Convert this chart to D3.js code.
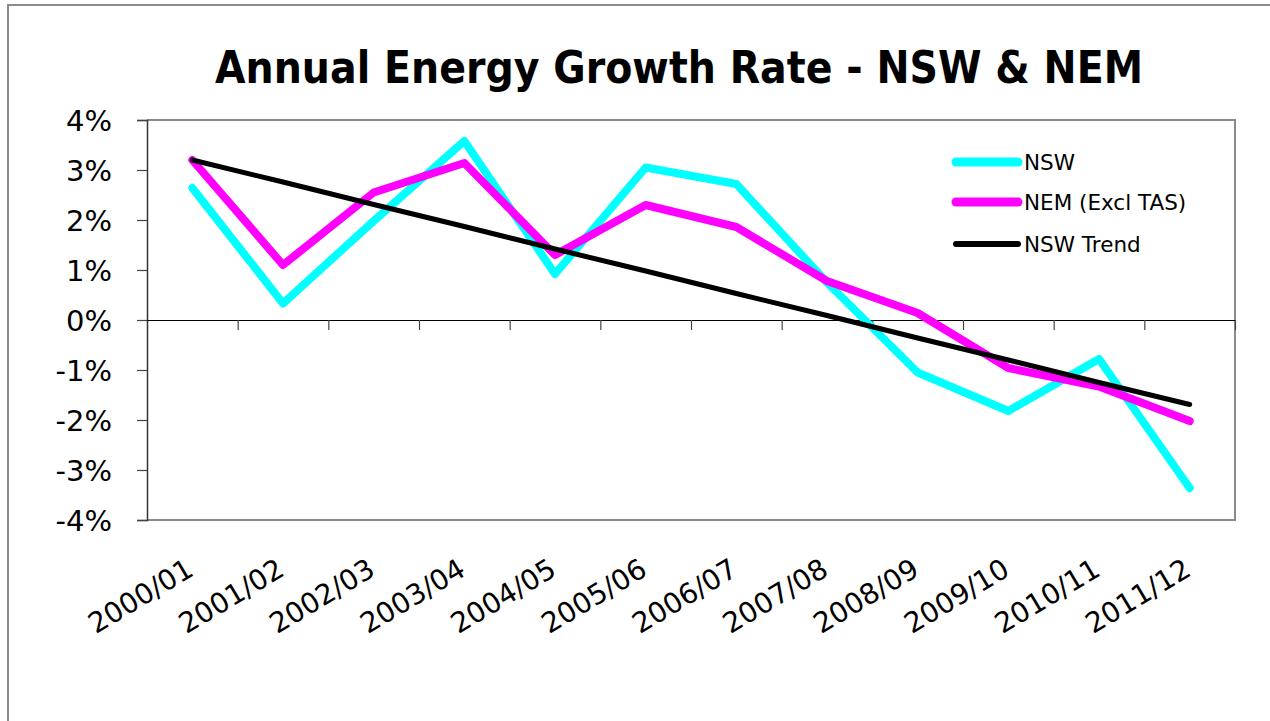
<!DOCTYPE html>
<html>
<head>
<meta charset="utf-8">
<script src="https://cdn.jsdelivr.net/npm/d3@7"></script>
<style>
  body { margin: 0; background: #fff; }
  svg { display: block; font-family: "DejaVu Sans", Verdana, sans-serif; }
</style>
</head>
<body>
<div id="chart"></div>
<script>
var years = ["2000/01", "2001/02", "2002/03", "2003/04", "2004/05", "2005/06",
             "2006/07", "2007/08", "2008/09", "2009/10", "2010/11", "2011/12"];

// growth rates in %
var nsw      = [2.64, 0.33, 1.98, 3.58, 0.92, 3.05, 2.72, 0.75, -1.05, -1.82, -0.78, -3.36];
var nem      = [3.20, 1.10, 2.55, 3.14, 1.30, 2.30, 1.86, 0.78, 0.14, -0.96, -1.33, -2.02];
var nswTrend = [3.20, 2.76, 2.31, 1.87, 1.42, 0.98, 0.53, 0.09, -0.36, -0.80, -1.25, -1.69];

var yTicks = [-4, -3, -2, -1, 0, 1, 2, 3, 4];

var series = [
    { name: "NSW", values: nsw, color: "#00ffff", width: 8 },
    { name: "NEM (Excl TAS)", values: nem, color: "#ff00ff", width: 8 },
    { name: "NSW Trend", values: nswTrend, color: "#000000", width: 5 }
];

var width = 1270, height = 721;
var plot = { left: 147, top: 120, right: 1235, bottom: 520 };

var svg = d3.select("#chart").append("svg")
    .attr("width", width)
    .attr("height", height);

// outer chart frame (runs off the page right and bottom)
svg.append("path")
    .attr("d", "M8,721 L8,5 L1270,5")
    .attr("fill", "none")
    .attr("stroke", "#8a8a8a")
    .attr("stroke-width", 2);

var x = d3.scaleBand()
    .domain(years)
    .range([plot.left, plot.right])
    .padding(0);

var xEdge = d3.scaleLinear()
    .domain([0, years.length])
    .range([plot.left, plot.right]);

var y = d3.scaleLinear()
    .domain([-4, 4])
    .range([plot.bottom, plot.top]);

var cx = function(d, i) { return x(years[i]) + x.bandwidth() / 2; };

// title
svg.append("text")
    .attr("x", 679)
    .attr("y", 83)
    .attr("text-anchor", "middle")
    .attr("font-size", 45)
    .attr("font-weight", "bold")
    .attr("textLength", 928)
    .attr("lengthAdjust", "spacingAndGlyphs")
    .text("Annual Energy Growth Rate - NSW & NEM");

// plot area border: grey top, right, bottom
svg.append("path")
    .attr("d", "M" + plot.left + "," + plot.top + " L" + plot.right + "," + plot.top +
               " L" + plot.right + "," + plot.bottom + " L" + plot.left + "," + plot.bottom)
    .attr("fill", "none")
    .attr("stroke", "#8a8a8a")
    .attr("stroke-width", 2);

// y axis
var yAxis = svg.append("g")
    .attr("transform", "translate(" + plot.left + ",0)")
    .call(d3.axisLeft(y)
        .tickValues(yTicks)
        .tickSize(10)
        .tickPadding(25)
        .tickFormat(function(d) { return d + "%"; }));
yAxis.select(".domain").attr("stroke", "#333").attr("stroke-width", 1.5);
yAxis.selectAll(".tick line").attr("stroke", "#444").attr("stroke-width", 1.2);
yAxis.selectAll(".tick text")
    .attr("font-family", "DejaVu Sans, Verdana, sans-serif")
    .attr("font-size", 29)
    .attr("fill", "#000")
    .attr("dy", "0.36em");

// x axis on the zero line, ticks between categories
var xAxis = svg.append("g")
    .attr("transform", "translate(0," + y(0) + ")")
    .call(d3.axisBottom(xEdge)
        .tickValues(d3.range(1, years.length + 1))
        .tickSize(10)
        .tickSizeOuter(0)
        .tickFormat(""));
xAxis.select(".domain").attr("stroke", "#000").attr("stroke-width", 1.2);
xAxis.selectAll(".tick line").attr("stroke", "#444").attr("stroke-width", 1.2);

// category labels, rotated
svg.append("g").selectAll("text")
    .data(years)
    .enter().append("text")
    .attr("transform", function(d) {
        return "translate(" + (x(d) + x.bandwidth() / 2 - 2) + ",566) rotate(-31)";
    })
    .attr("text-anchor", "end")
    .attr("dy", "0.35em")
    .attr("font-size", 28)
    .text(function(d) { return d; });

// lines
var line = d3.line()
    .x(cx)
    .y(function(d) { return y(d); });

svg.append("g").selectAll("path")
    .data(series)
    .enter().append("path")
    .attr("d", function(s) { return line(s.values); })
    .attr("fill", "none")
    .attr("stroke", function(s) { return s.color; })
    .attr("stroke-width", function(s) { return s.width; })
    .attr("stroke-linejoin", "round")
    .attr("stroke-linecap", "round");

// legend
var legendY = [162, 202, 244];
var legend = svg.append("g").selectAll("g")
    .data(series)
    .enter().append("g")
    .attr("transform", function(s, i) { return "translate(956," + legendY[i] + ")"; });

legend.append("line")
    .attr("x1", 0).attr("x2", 62)
    .attr("stroke", function(s) { return s.color; })
    .attr("stroke-width", function(s) { return s.width + 1; })
    .attr("stroke-linecap", "round");

legend.append("text")
    .attr("x", 68)
    .attr("dy", "0.36em")
    .attr("font-size", 21.5)
    .text(function(s) { return s.name; });
</script>
</body>
</html>
